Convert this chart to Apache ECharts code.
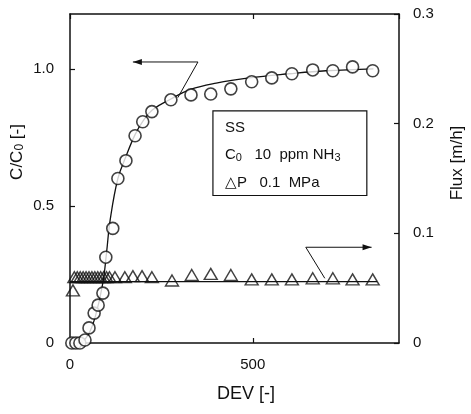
<!DOCTYPE html>
<html>
<head>
<meta charset="utf-8">
<script src="https://cdn.jsdelivr.net/npm/echarts@6/dist/echarts.min.js"></script>
<style>html,body{margin:0;padding:0;background:#fff}#c{width:471px;height:414px}</style>
</head>
<body>
<div id="c"></div>
<script>
// ---- data ----
var circleDev = [5, 16, 27, 41, 52, 66, 77, 90, 98, 117, 131, 153, 178, 199, 224, 276, 331, 385, 440, 497, 552, 607, 664, 719, 773, 828];
var circleC   = [0, 0, 0, 0.011, 0.055, 0.109, 0.138, 0.182, 0.313, 0.418, 0.6, 0.665, 0.756, 0.807, 0.844, 0.887, 0.905, 0.908, 0.927, 0.953, 0.967, 0.982, 0.996, 0.993, 1.007, 0.993];
var fitDev = [30, 50, 70, 90, 100, 110, 131, 153, 178, 200, 225, 276, 330, 400, 490, 600, 700, 830];
var fitC   = [0, 0.03, 0.1, 0.22, 0.33, 0.45, 0.6, 0.68, 0.76, 0.81, 0.85, 0.89, 0.925, 0.948, 0.967, 0.982, 0.993, 1.0];
var triDev = [8, 12, 20, 28, 36, 44, 52, 60, 68, 76, 84, 92, 100, 108, 123, 150, 172, 197, 224, 279, 333, 385, 440, 497, 552, 607, 664, 719, 773, 828];
var triFlux = [0.048, 0.06, 0.06, 0.06, 0.06, 0.06, 0.06, 0.06, 0.06, 0.06, 0.06, 0.06, 0.06, 0.06, 0.060, 0.060, 0.061, 0.061, 0.060, 0.057, 0.062, 0.063, 0.062, 0.058, 0.058, 0.058, 0.059, 0.059, 0.058, 0.058];
var fluxLineDev = [0, 840];
var fluxLineVal = [0.056, 0.056];
var xTicks = [0, 500];
var leftTicks = [0, 0.5, 1.0];
var rightTicks = [0, 0.1, 0.2, 0.3];

function pairs(a, b) { return a.map(function (v, i) { return [v, b[i]]; }); }

var chart = echarts.init(document.getElementById('c'), null, { renderer: 'canvas' });
var FONT = 'Liberation Sans, Arial, sans-serif';
var INK = '#111';
function axLine() { return { show: true, onZero: false, lineStyle: { color: INK, width: 1.5 } }; }
function tick() { return { inside: true, length: 5, lineStyle: { color: INK, width: 1.2 } }; }

var option = {
  animation: false,
  backgroundColor: '#fff',
  textStyle: { fontFamily: FONT, color: INK },
  grid: { left: 70, right: 72, top: 14, bottom: 71 },
  xAxis: [{
    type: 'value', min: 0, max: 900, interval: 500, position: 'bottom',
    axisLine: axLine(), axisTick: tick(),
    axisLabel: { fontSize: 15, color: INK, margin: 14, fontFamily: FONT, showMaxLabel: false,
      formatter: function (v) { return xTicks.indexOf(v) >= 0 ? String(v) : ''; } },
    splitLine: { show: false }
  }, {
    type: 'value', min: 0, max: 900, interval: 500, position: 'top',
    axisLine: axLine(), axisTick: tick(),
    axisLabel: { show: false }, splitLine: { show: false }
  }],
  yAxis: [{
    type: 'value', min: 0, max: 1.2, interval: 0.5, position: 'left',
    axisLine: axLine(), axisTick: tick(),
    axisLabel: { fontSize: 15, color: INK, margin: 16, fontFamily: FONT, showMaxLabel: false,
      formatter: function (v) { return leftTicks.indexOf(v) >= 0 ? (v === 0 ? '0' : v.toFixed(1)) : ''; } },
    splitLine: { show: false }
  }, {
    type: 'value', min: 0, max: 0.3, interval: 0.1, position: 'right',
    axisLine: axLine(), axisTick: tick(),
    axisLabel: { fontSize: 15, color: INK, margin: 14, fontFamily: FONT,
      formatter: function (v) { return v === 0 ? '0' : v.toFixed(1); } },
    splitLine: { show: false }
  }],
  series: [{
    name: 'fit', type: 'line', xAxisIndex: 0, yAxisIndex: 0, smooth: 0.4, symbol: 'none',
    lineStyle: { color: INK, width: 1.3 }, data: pairs(fitDev, fitC), z: 2
  }, {
    name: 'C/C0', type: 'scatter', xAxisIndex: 0, yAxisIndex: 0, symbol: 'circle', symbolSize: 12,
    itemStyle: { color: '#fff', borderColor: INK, borderWidth: 1.6 }, data: pairs(circleDev, circleC), z: 4
  }, {
    name: 'fluxLine', type: 'line', xAxisIndex: 0, yAxisIndex: 1, symbol: 'none',
    lineStyle: { color: INK, width: 1.3 }, data: pairs(fluxLineDev, fluxLineVal), z: 2
  }, {
    name: 'Flux', type: 'scatter', xAxisIndex: 0, yAxisIndex: 1, symbol: 'triangle', symbolSize: [13, 11],
    itemStyle: { color: 'rgba(255,255,255,0)', borderColor: INK, borderWidth: 1.4 }, data: pairs(triDev, triFlux), z: 3
  }]
};
chart.setOption(option);

function P(x, y, yi) { return chart.convertToPixel({ xAxisIndex: 0, yAxisIndex: yi }, [x, y]); }
function arrow(start, corner, tip) {
  var els = [];
  els.push({ type: 'polyline', shape: { points: [start, corner, tip] }, style: { stroke: INK, lineWidth: 1, fill: null }, z: 10 });
  var dx = tip[0] - corner[0], dy = tip[1] - corner[1];
  var len = Math.sqrt(dx * dx + dy * dy); dx /= len; dy /= len;
  var hl = 9, hw = 3;
  var bx = tip[0] - dx * hl, by = tip[1] - dy * hl;
  els.push({ type: 'polygon', shape: { points: [tip, [bx - dy * hw, by + dx * hw], [bx + dy * hw, by - dx * hw]] }, style: { fill: INK }, z: 10 });
  return els;
}
var g = [];
g = g.concat(arrow(P(295, 0.895, 0), P(350, 1.025, 0), P(172, 1.025, 0)));
g = g.concat(arrow(P(697, 0.059, 1), P(645, 0.0873, 1), P(825, 0.0873, 1)));
var b1 = P(391, 0.847, 0), b2 = P(812, 0.538, 0);
g.push({ type: 'rect', shape: { x: b1[0], y: b1[1], width: b2[0] - b1[0], height: b2[1] - b1[1] }, style: { fill: '#fff', stroke: INK, lineWidth: 1.2 }, z: 8 });
var tx = b1[0] + 12;
var rich = { s: { fontSize: 11, fontFamily: FONT, fill: INK, padding: [6, 0, 0, 0] } };
g.push({ type: 'text', x: tx, y: b1[1] + 17, style: { text: 'SS', fontSize: 15, fontFamily: FONT, fill: INK, verticalAlign: 'middle' }, z: 9 });
g.push({ type: 'text', x: tx, y: b1[1] + 44, style: { text: 'C{s|0}   10  ppm NH{s|3}', fontSize: 15, fontFamily: FONT, fill: INK, verticalAlign: 'middle', rich: rich }, z: 9 });
g.push({ type: 'text', x: tx, y: b1[1] + 72, style: { text: '△P   0.1  MPa', fontSize: 15, fontFamily: FONT, fill: INK, verticalAlign: 'middle' }, z: 9 });
// axis titles
g.push({ type: 'text', x: 17, y: 152, rotation: Math.PI / 2, style: { text: 'C/C{s|0} [-]', fontSize: 17, fontFamily: FONT, fill: INK, align: 'center', verticalAlign: 'middle', rich: { s: { fontSize: 12, fontFamily: FONT, fill: INK, padding: [6, 0, 0, 0] } } }, z: 9 });
g.push({ type: 'text', x: 457, y: 163, rotation: Math.PI / 2, style: { text: 'Flux [m/h]', fontSize: 17, fontFamily: FONT, fill: INK, align: 'center', verticalAlign: 'middle' }, z: 9 });
g.push({ type: 'text', x: 246, y: 394, style: { text: 'DEV [-]', fontSize: 18, fontFamily: FONT, fill: INK, align: 'center', verticalAlign: 'middle' }, z: 9 });
chart.setOption({ graphic: g });
</script>
</body>
</html>
